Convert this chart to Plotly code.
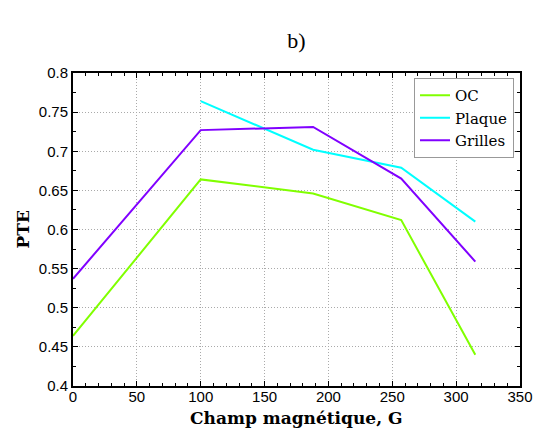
import plotly.graph_objects as go

champ = [0, 100, 188, 257, 315]
oc = [0.464, 0.664, 0.646, 0.612, 0.440]
plaque_x = [100, 188, 257, 315]
plaque = [0.764, 0.702, 0.679, 0.610]
grilles = [0.537, 0.727, 0.731, 0.665, 0.559]

fig = go.Figure()
fig.add_trace(go.Scatter(x=champ, y=oc, mode="lines", name="OC",
                         line=dict(color="#80ff00", width=2)))
fig.add_trace(go.Scatter(x=plaque_x, y=plaque, mode="lines", name="Plaque",
                         line=dict(color="#00ffff", width=2)))
fig.add_trace(go.Scatter(x=champ, y=grilles, mode="lines", name="Grilles",
                         line=dict(color="#8000ff", width=2)))

axis_common = dict(
    showline=True, linecolor="black", linewidth=2, mirror="ticks",
    ticks="inside", ticklen=5, tickwidth=1, tickcolor="black",
    showgrid=True, gridcolor="#aaaaaa", griddash="1px,2px", gridwidth=1,
    zeroline=False, automargin=False,
    tickfont=dict(family="Liberation Sans", size=15, color="black"),
)

fig.update_xaxes(range=[0, 350], dtick=50, ticklabelstandoff=-4,
                 minor=dict(dtick=10, ticks="inside", ticklen=3, tickcolor="black", showgrid=False),
                 **axis_common)
fig.update_yaxes(range=[0.4, 0.8], dtick=0.05, tickformat="~g",
                 minor=dict(dtick=0.025, ticks="inside", ticklen=3, tickcolor="black", showgrid=False),
                 **axis_common)

# page has an 8px body margin, so the figure is reduced accordingly
W, H = 535, 421
L, R, T, B = 65, 23, 65, 43
pw, ph = W - L - R, H - T - B

fig.add_annotation(text="<b>Champ magnétique, G</b>", xref="paper", yref="paper",
                   x=0.5, y=(T + ph - 410) / ph,
                   xanchor="center", yanchor="middle", showarrow=False,
                   font=dict(family="DejaVu Serif", size=17, color="black"))
fig.add_annotation(text="<b>PTE</b>", xref="paper", yref="paper",
                   x=(14 - L) / pw, y=0.5, textangle=-90,
                   xanchor="center", yanchor="middle", showarrow=False,
                   font=dict(family="DejaVu Serif", size=17, color="black"))

fig.update_layout(
    width=W, height=H,
    margin=dict(l=L, r=R, t=T, b=B),
    paper_bgcolor="white", plot_bgcolor="white",
    title=dict(text="b)", x=(L + pw / 2) / W, xanchor="center", y=1 - 32 / H, yanchor="middle",
               font=dict(family="Liberation Serif, serif", size=22, color="black")),
    legend=dict(x=0.9866, y=0.984, xanchor="right", yanchor="top",
                bgcolor="white", bordercolor="#999999", borderwidth=1,
                font=dict(family="DejaVu Serif", size=15, color="black"),
                tracegroupgap=0, itemwidth=30),
    showlegend=True,
)

fig.write_html("out.html")
